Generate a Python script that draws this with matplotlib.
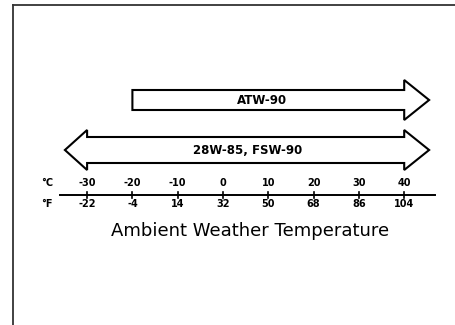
import matplotlib
matplotlib.use("Agg")
import matplotlib.pyplot as plt
from matplotlib.patches import Polygon

celsius = [-30, -20, -10, 0, 10, 20, 30, 40]
fahrenheit = [-22, -4, 14, 32, 50, 68, 86, 104]
ranges = [("ATW-90", -20, 40, False), ("28W-85, FSW-90", -30, 40, True)]
title = "Ambient Weather Temperature"

fig = plt.figure(figsize=(4.55, 3.25), dpi=100)
ax = fig.add_axes([0, 0, 1, 1])
px = 4.53
ax.set_xlim(-223 / px, (455 - 223) / px)
ax.set_ylim(325, 0)
ax.axis("off")

# frame
ax.plot([-210 / px, -210 / px], [325, 5], color="#333333", lw=1.3, clip_on=False)
ax.plot([-210 / px, 232 / px], [5, 5], color="#333333", lw=1.3, clip_on=False)

# axis line
ax.plot([-163 / px, 212 / px], [195, 195], color="black", lw=1.4)
for c, f in zip(celsius, fahrenheit):
    ax.plot([c, c], [192, 198], color="black", lw=1.2)
    ax.text(c, 183, f"{c}", ha="center", va="center", fontsize=7, fontweight="bold")
    ax.text(c, 204, f"{f}", ha="center", va="center", fontsize=7, fontweight="bold")
ax.text(-176 / px, 183, "°C", ha="center", va="center", fontsize=7, fontweight="bold")
ax.text(-176 / px, 204, "°F", ha="center", va="center", fontsize=7, fontweight="bold")
ax.text(27 / px, 231, title, ha="center", va="center", fontsize=13)

head_r = 5.5
head_l = 4.9
centers = [100, 150]
half_w = [10, 13]
half_h = [20, 20]
offsets = [-1.4, 0.5]
for (name, t0, t1, both), yc, hw, hh, off in zip(ranges, centers, half_w, half_h, offsets):
    pts = [(t0, yc - hw), (t1, yc - hw), (t1, yc - hh), (t1 + head_r, yc),
           (t1, yc + hh), (t1, yc + hw), (t0, yc + hw)]
    if both:
        pts += [(t0, yc + hh), (t0 - head_l, yc), (t0, yc - hh)]
    poly = Polygon(pts, closed=True, facecolor="white", edgecolor="black", lw=1.5,
                   joinstyle="miter")
    ax.add_patch(poly)
    ax.text((t0 + t1) / 2 + off, yc, name, ha="center", va="center",
            fontsize=8.5, fontweight="bold")

fig.savefig("out.png", dpi=100)
